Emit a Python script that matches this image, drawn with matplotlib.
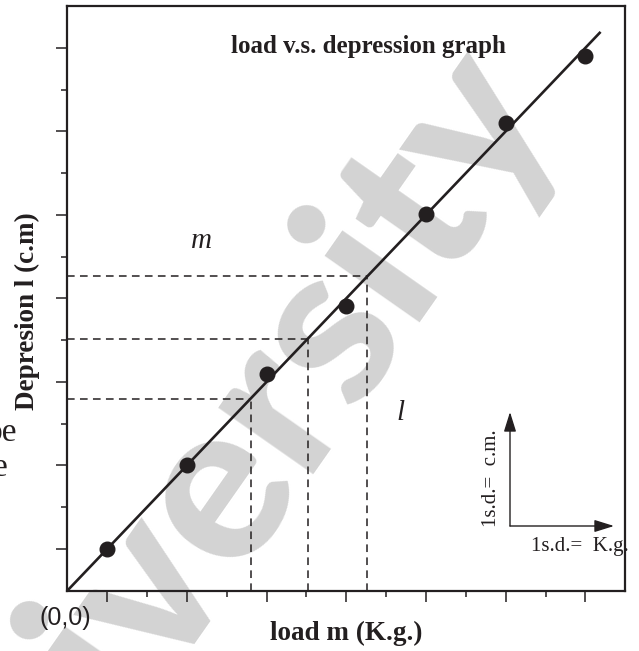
import matplotlib
matplotlib.use("Agg")
import matplotlib.pyplot as plt
import numpy as np

# ---- data (x in half-grid units, ticks unlabeled) ----
load = [1, 3, 5, 7, 9, 11, 13]
depression = [1.0, 3.0, 5.2, 6.81, 9.01, 11.21, 12.81]
fit_x = [0, 13.38]
fit_y = [0, 13.38]
read_x = [4.6, 6.03, 7.53]
read_y = [4.6, 6.03, 7.53]

W, H = 639, 651
INK = '#231f20'

fig = plt.figure(figsize=(W / 100, H / 100), dpi=100)
fig.patch.set_facecolor('white')

def fx(x):
    return x / W

def fy(y):
    return 1 - y / H

# watermark
fig.text(fx(205), fy(494), 'University', fontsize=162, family='Lato',
         fontweight='black', color='#d3d3d3', rotation=55,
         rotation_mode='anchor', ha='center', va='center', zorder=-5)

ax = fig.add_axes([fx(67.3), fy(590.7), (625.3 - 67.3) / W, (590.7 - 6) / H])
ax.patch.set_visible(False)
ax.set_xlim(0, 14)
ax.set_ylim(0, 14)

ax.set_xticks(range(1, 14, 2))
ax.set_xticks(range(2, 14, 2), minor=True)
ax.set_yticks(range(1, 14, 2))
ax.set_yticks(range(2, 14, 2), minor=True)
ax.tick_params(which='both', direction='out', color=INK, labelleft=False,
               labelbottom=False, top=False, right=False)
ax.tick_params(which='major', length=8, width=1.1)
ax.tick_params(which='minor', length=4.3, width=1.1)
for s in ax.spines.values():
    s.set_linewidth(1.6)
    s.set_color(INK)

# reading lines
for rx, ry in zip(read_x, read_y):
    ax.plot([0, rx], [ry, ry], color=INK, lw=1.1, ls=(0, (5, 3.5)), clip_on=False)
    ax.plot([rx, rx], [0, ry], color=INK, lw=1.1, ls=(0, (5, 3.5)), clip_on=False)

ax.plot(fit_x, fit_y, color=INK, lw=1.9, solid_capstyle='butt')
ax.plot(load, depression, 'o', color=INK, ms=10.5, zorder=5)

serif = 'Liberation Serif'
fig.text(fx(368.5), fy(53), 'load v.s. depression graph', family=serif,
         fontweight='bold', fontsize=18, ha='center', va='baseline', color=INK)
fig.text(fx(346.5), fy(640), 'load m (K.g.)', family=serif,
         fontweight='bold', fontsize=19.5, ha='center', va='baseline', color=INK)
fig.text(fx(27), fy(311), 'Depresion l (c.m)', family=serif,
         fontweight='bold', fontsize=19.5, ha='center', va='center',
         rotation=90, color=INK)
fig.text(fx(65), fy(618), '(0,0)', family='Liberation Sans', fontsize=18,
         ha='center', va='center', color=INK)
fig.text(fx(201), fy(248), 'm', family=serif, style='italic', fontsize=21,
         ha='center', va='baseline', color=INK)
fig.text(fx(401), fy(420), 'l', family=serif, style='italic', fontsize=21,
         ha='center', va='baseline', color=INK)
fig.text(fx(17), fy(441), 'pe', family=serif, fontsize=24,
         ha='right', va='baseline', color=INK)
fig.text(fx(8), fy(476), 'e', family=serif, fontsize=24,
         ha='right', va='baseline', color=INK)

# scale legend arrows
arrow = dict(arrowstyle='-|>,head_length=0.8,head_width=0.25', color=INK, lw=1.0,
             shrinkA=0, shrinkB=0, mutation_scale=15)
fig.add_artist(matplotlib.patches.FancyArrowPatch(
    (fx(510), fy(526)), (fx(510), fy(412)), transform=fig.transFigure, **arrow))
fig.add_artist(matplotlib.patches.FancyArrowPatch(
    (fx(510), fy(526)), (fx(614), fy(526)), transform=fig.transFigure, **arrow))
fig.text(fx(492), fy(478), '1s.d.=  c.m.', family=serif, fontsize=15,
         rotation=90, ha='center', va='center', color=INK)
fig.text(fx(580), fy(547), '1s.d.=  K.g.', family=serif, fontsize=15,
         ha='center', va='center', color=INK)

fig.savefig('out.png', dpi=100, facecolor='white')
